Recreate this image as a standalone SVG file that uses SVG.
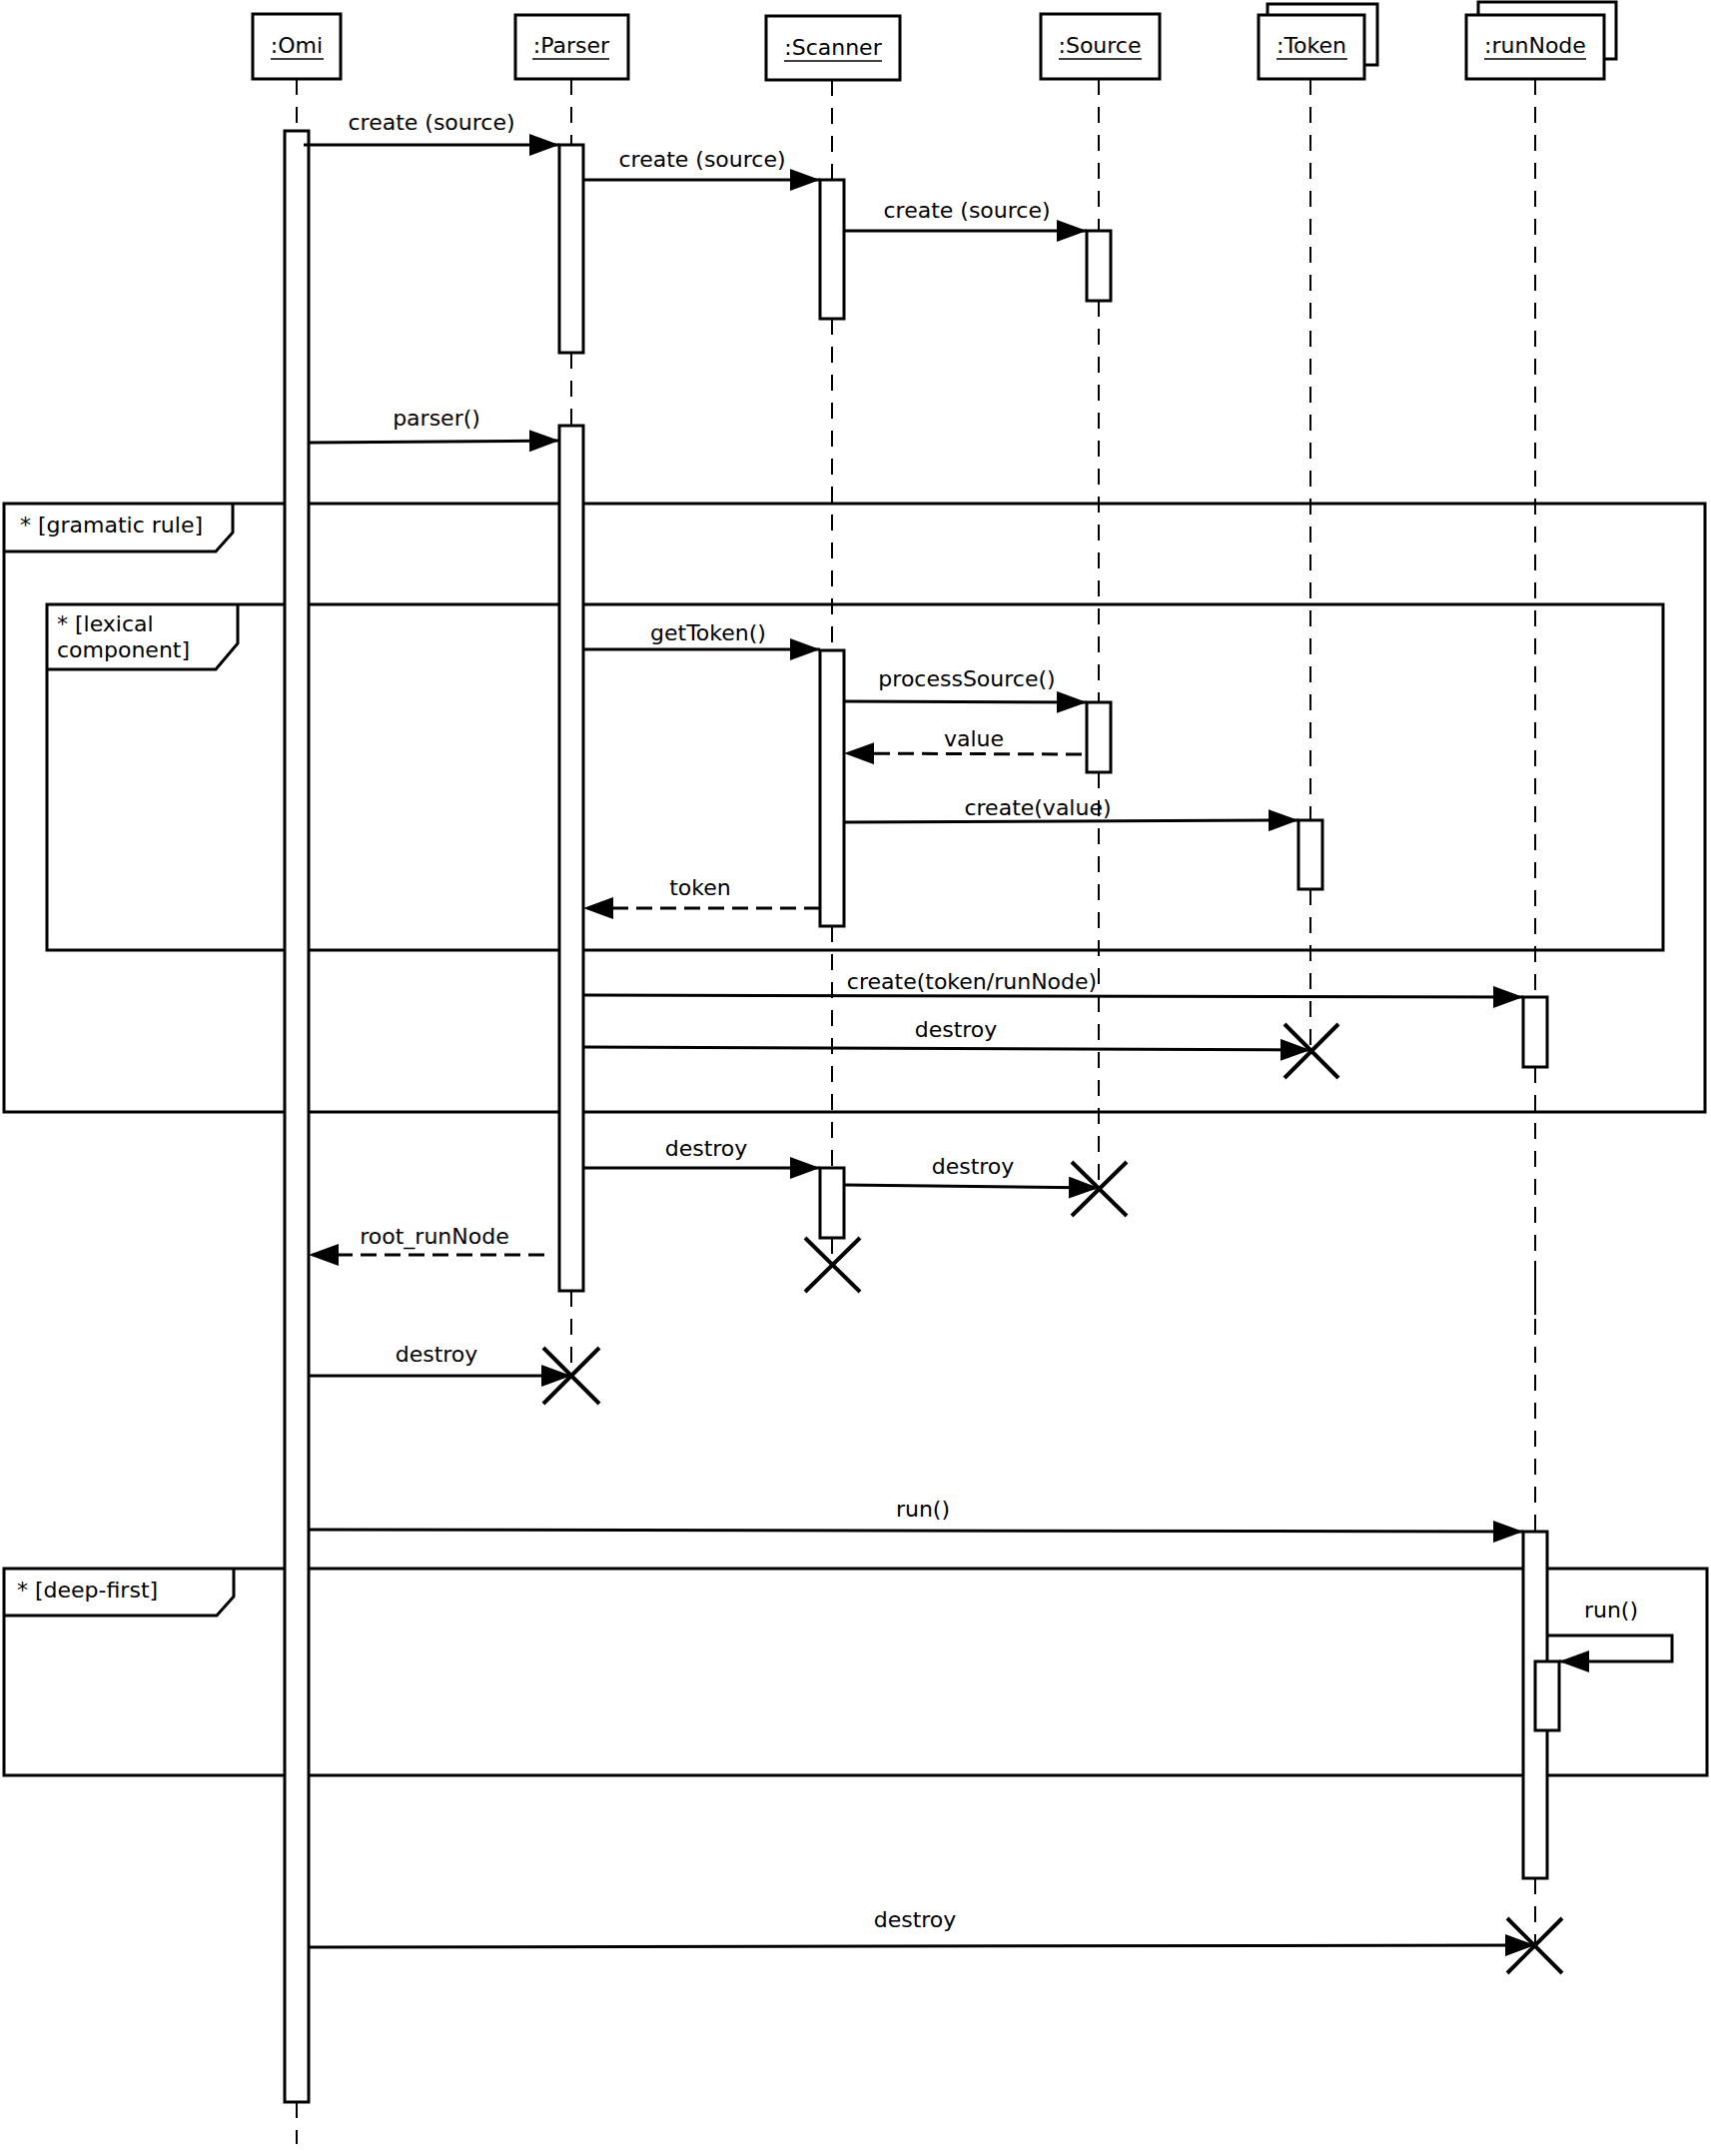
<svg xmlns="http://www.w3.org/2000/svg" width="1713" height="2158" viewBox="0 0 1713 2158">
<style>
text{font-family:"DejaVu Sans","Liberation Sans",sans-serif;font-size:22px;fill:#000}
.m{text-anchor:middle}
.ul{fill:none;stroke:#000;stroke-width:1.5}
.box{fill:#fff;stroke:#000;stroke-width:3}
.act{fill:#fff;stroke:#000;stroke-width:3}
.life{fill:none;stroke:#000;stroke-width:2;stroke-dasharray:16 12}
.frame{fill:none;stroke:#000;stroke-width:3}
.msg{fill:none;stroke:#000;stroke-width:3;marker-end:url(#arr)}
.ret{fill:none;stroke:#000;stroke-width:3;stroke-dasharray:16 8;marker-end:url(#arr)}
.x{fill:none;stroke:#000;stroke-width:4}
</style>
<defs>
<marker id="arr" markerUnits="userSpaceOnUse" markerWidth="30" markerHeight="22" viewBox="0 0 30 22" refX="30" refY="11" orient="auto">
<path d="M0,0 L30,11 L0,22 z" fill="#000"/>
</marker>
</defs>
<rect width="1713" height="2158" fill="#fff"/>

<g id="frame-gramatic-rule">
<rect class="frame" x="4" y="504" width="1703" height="609"/>
<path class="frame" d="M4,552 H216 L233,533 V504"/>
<text x="20" y="533">* [gramatic rule]</text>
</g>
<g id="frame-lexical-component">
<rect class="frame" x="47" y="605" width="1618" height="346"/>
<path class="frame" d="M47,670 H216 L238,644 V605"/>
<text x="57" y="632">* [lexical</text>
<text x="57" y="658">component]</text>
</g>
<g id="frame-deep-first">
<rect class="frame" x="4" y="1570" width="1705" height="207"/>
<path class="frame" d="M4,1617 H217 L234,1598 V1570"/>
<text x="17" y="1599">* [deep-first]</text>
</g>

<g id="omi">
<rect class="box" x="253" y="14" width="88" height="65"/>
<text class="m" x="297" y="53">:Omi</text>
<path class="ul" d="M271,59 H324"/>
<path class="life" d="M297,79 V131 M297,2104 V2146"/>
<rect class="act" x="285" y="131" width="24" height="1973"/>
</g>

<g id="parser">
<rect class="box" x="516" y="15" width="113" height="64"/>
<text class="m" x="572" y="53">:Parser</text>
<path class="ul" d="M533,59 H610"/>
<path class="life" d="M572,79 V145 M572,353 V426 M572,1292 V1377"/>
<rect class="act" x="560" y="145" width="24" height="208"/>
<rect class="act" x="560" y="426" width="24" height="866"/>
<path class="x" d="M544,1349 L600,1405 M600,1349 L544,1405"/>
</g>

<g id="scanner">
<rect class="box" x="767" y="16" width="134" height="64"/>
<text class="m" x="834" y="55">:Scanner</text>
<path class="ul" d="M785,61 H883"/>
<path class="life" d="M833,80 V180 M833,319 V651 M833,927 V1169 M833,1239 V1266"/>
<rect class="act" x="821" y="180" width="24" height="139"/>
<rect class="act" x="821" y="651" width="24" height="276"/>
<rect class="act" x="821" y="1169" width="24" height="70"/>
<path class="x" d="M806,1239 L861,1293 M861,1239 L806,1293"/>
</g>

<g id="source">
<rect class="box" x="1042" y="14" width="119" height="65"/>
<text class="m" x="1101" y="53">:Source</text>
<path class="ul" d="M1060,59 H1143"/>
<path class="life" d="M1100,79 V231 M1100,301 V703 M1100,773 V1190"/>
<rect class="act" x="1088" y="231" width="24" height="70"/>
<rect class="act" x="1088" y="703" width="24" height="70"/>
<path class="x" d="M1073,1163 L1128,1217 M1128,1163 L1073,1217"/>
</g>

<g id="token">
<rect class="box" x="1269" y="4" width="110" height="61"/>
<rect class="box" x="1260" y="15" width="106" height="64"/>
<text class="m" x="1313" y="53">:Token</text>
<path class="ul" d="M1278,59 H1349"/>
<path class="life" d="M1312,79 V821 M1312,890 V1052"/>
<rect class="act" x="1300" y="821" width="24" height="69"/>
<path class="x" d="M1286,1025 L1340,1079 M1340,1025 L1286,1079"/>
</g>

<g id="runNode">
<rect class="box" x="1480" y="2" width="138" height="57"/>
<rect class="box" x="1468" y="15" width="138" height="64"/>
<text class="m" x="1537" y="53">:runNode</text>
<path class="ul" d="M1486,59 H1588"/>
<path class="life" d="M1537,79 V998 M1537,1068 V1533 M1537,1880 V1947"/>
<path d="M1537,1262 V1316" stroke="#000" stroke-width="2"/>
<rect class="act" x="1525" y="998" width="24" height="70"/>
<rect class="act" x="1525" y="1533" width="24" height="347"/>
<rect class="act" x="1537" y="1663" width="24" height="69"/>
<path class="x" d="M1509,1920 L1564,1975 M1564,1920 L1509,1975"/>
</g>

<g id="connectors">
<path class="msg" d="M304,145 L560,145"/>
<text class="m" x="432" y="130">create (source)</text>
<path class="msg" d="M584,180 L821,180"/>
<text class="m" x="703" y="167">create (source)</text>
<path class="msg" d="M845,231 L1088,231"/>
<text class="m" x="968" y="218">create (source)</text>
<path class="msg" d="M309,443 L560,441"/>
<text class="m" x="437" y="426">parser()</text>
<path class="msg" d="M584,650 L821,650"/>
<text class="m" x="709" y="641">getToken()</text>
<path class="msg" d="M845,702 L1088,703"/>
<text class="m" x="968" y="687">processSource()</text>
<path class="ret" d="M1083,755 L845,754"/>
<text class="m" x="975" y="747">value</text>
<path class="msg" d="M845,823 L1300,821"/>
<text class="m" x="1039" y="816">create(value)</text>
<path class="ret" d="M821,909 L584,909"/>
<text class="m" x="701" y="896">token</text>
<path class="msg" d="M584,996 L1525,998"/>
<text class="m" x="973" y="990">create(token/runNode)</text>
<path class="msg" d="M584,1048 L1312,1051"/>
<text class="m" x="957" y="1038">destroy</text>
<path class="msg" d="M584,1169 L821,1169"/>
<text class="m" x="707" y="1157">destroy</text>
<path class="msg" d="M845,1186 L1100,1189"/>
<text class="m" x="974" y="1175">destroy</text>
<path class="ret" d="M545,1256 L309,1256"/>
<text class="m" x="435" y="1245">root_runNode</text>
<path class="msg" d="M309,1377 L572,1377"/>
<text class="m" x="437" y="1363">destroy</text>
<path class="msg" d="M309,1531 L1525,1533"/>
<text class="m" x="924" y="1518">run()</text>
<path class="msg" d="M1549,1637 H1674 V1663 H1561"/>
<text class="m" x="1613" y="1619">run()</text>
<path class="msg" d="M309,1949 L1537,1947"/>
<text class="m" x="916" y="1929">destroy</text>
</g>
</svg>
